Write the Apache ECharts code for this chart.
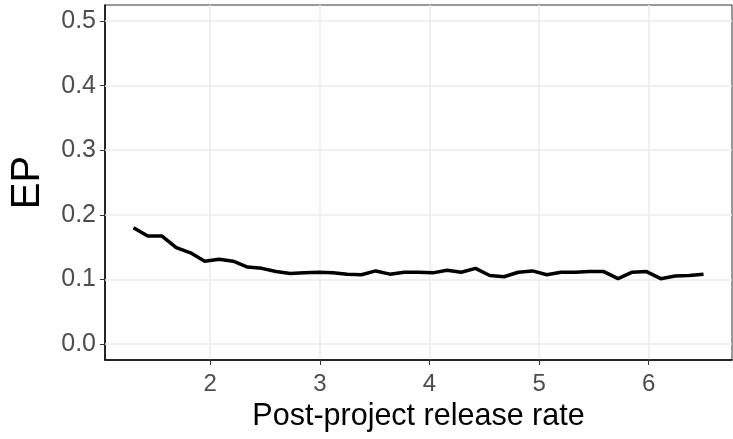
<!DOCTYPE html>
<html>
<head>
<meta charset="utf-8">
<script src="https://cdn.jsdelivr.net/npm/echarts@6/dist/echarts.min.js"></script>
<style>html,body{margin:0;padding:0;background:#fff;}#c{width:733px;height:439px;}</style>
</head>
<body>
<div id="c"></div>
<script>
var rates = [1.30,1.43,1.56,1.69,1.82,1.95,2.08,2.21,2.34,2.47,2.60,2.73,2.86,2.99,3.12,3.25,3.38,3.51,3.64,3.77,3.90,4.03,4.16,4.29,4.42,4.55,4.68,4.81,4.94,5.07,5.20,5.33,5.46,5.59,5.72,5.85,5.98,6.11,6.24,6.37,6.50];
var ep = [0.180,0.167,0.167,0.149,0.141,0.128,0.131,0.128,0.119,0.117,0.112,0.109,0.110,0.111,0.110,0.108,0.107,0.113,0.108,0.111,0.111,0.110,0.114,0.111,0.117,0.106,0.104,0.111,0.113,0.107,0.111,0.111,0.112,0.112,0.101,0.111,0.112,0.101,0.105,0.106,0.108];
var xTicks = [2,3,4,5,6];
var yTicks = [0.0,0.1,0.2,0.3,0.4,0.5];

var data = rates.map(function(r,i){return [r, ep[i]];});
var chart = echarts.init(document.getElementById('c'), null, {renderer:'canvas'});
var font = 'Liberation Sans, Arial, Helvetica, sans-serif';
chart.setOption({
  animation:false,
  grid:{left:105, right:1, top:5, bottom:79, containLabel:false, outerBoundsMode:'none',
    show:true, borderColor:'#333', borderWidth:1, backgroundColor:'#fff'},
  xAxis:{
    type:'value', min:1.04, max:6.76, interval:1,
    name:'Post-project release rate', nameLocation:'middle', nameGap:34,
    nameTextStyle:{fontFamily:font, fontSize:30.5, color:'#000'},
    axisLine:{show:true, onZero:false, lineStyle:{color:'#000', width:1.5}},
    axisTick:{show:true, length:5, customValues: xTicks, lineStyle:{color:'#333'}},
    axisLabel:{fontFamily:font, fontSize:24, color:'#4d4d4d', margin:12,
      customValues: xTicks, formatter:function(v){return String(v);}},
    splitLine:{show:true, lineStyle:{color:'#ebebeb', width:1.5}}
  },
  yAxis:{
    type:'value', min:-0.025, max:0.525,
    name:'EP', nameLocation:'middle', nameGap:57,
    nameTextStyle:{fontFamily:font, fontSize:40, color:'#000'},
    axisLine:{show:true, onZero:false, lineStyle:{color:'#000', width:1.5}},
    axisTick:{show:true, length:5, customValues: yTicks, lineStyle:{color:'#333'}},
    axisLabel:{fontFamily:font, fontSize:25, color:'#4d4d4d', margin:9,
      customValues: yTicks, formatter:function(v){return v.toFixed(1);}},
    splitLine:{show:false}
  },
  series:[{
    type:'line', data:data, showSymbol:false, symbol:'none',
    lineStyle:{color:'#000', width:3.5}, z:5
  },{
    type:'line', data:[], markLine:{silent:true, symbol:'none', label:{show:false},
      lineStyle:{color:'#ebebeb', width:1.5, type:'solid'},
      data: yTicks.map(function(t){return {yAxis:t};})}, z:1
  }]
});
</script>
</body>
</html>
